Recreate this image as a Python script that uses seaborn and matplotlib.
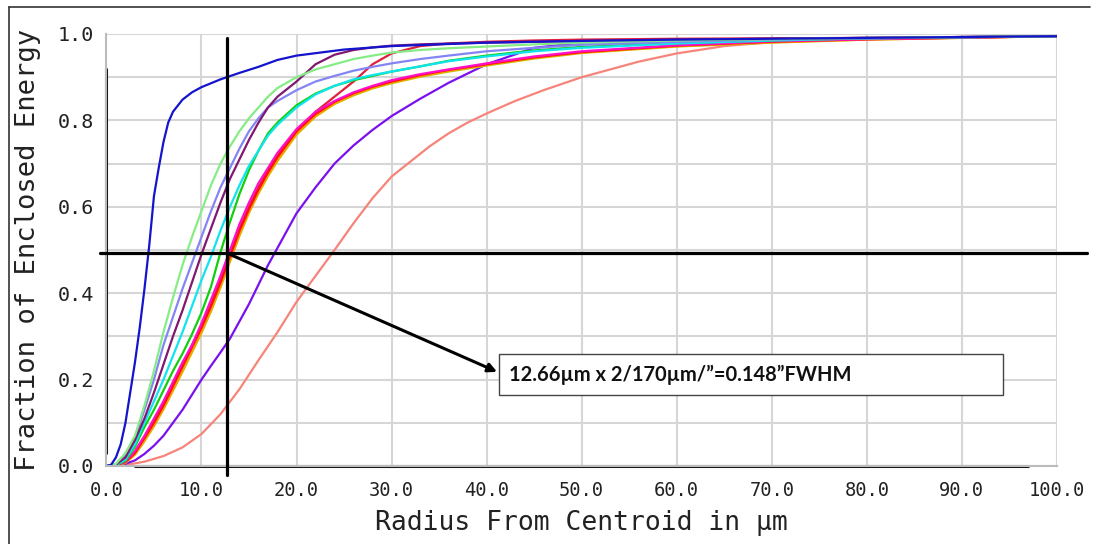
import matplotlib
matplotlib.use("Agg")
from matplotlib import pyplot as plt
from matplotlib.lines import Line2D
from matplotlib.patches import Rectangle
from matplotlib.ticker import MultipleLocator, FormatStrFormatter
import pandas as pd
import seaborn as sns

# radius grid (um) shared by most of the curves
radius = [0, 1, 2, 3, 4, 5, 6, 7, 8, 9, 10, 11, 12, 13, 14, 15, 16, 17, 18,
          20, 22, 24, 26, 28, 30, 33, 36, 40, 45, 50, 60, 70, 80, 100]
# the blue one rises very fast, so it gets a finer grid
blue_radius = [0, 0.5, 1, 1.5, 2, 2.5, 3, 3.5, 4, 4.5, 5, 5.5, 6, 6.5, 7, 8, 9, 10,
               12, 14, 16, 18, 20, 25, 30, 40, 50, 60, 80, 100]
# the salmon one is slow, finer steps further out
salmon_radius = [0, 2, 4, 6, 8, 10, 12, 14, 16, 18, 20, 22, 24, 26, 28, 30, 32, 34, 36, 38,
                 40, 43, 46, 50, 53, 56, 60, 65, 70, 80, 90, 100]

# enclosed energy
blue = [0, 0.003, 0.02, 0.05, 0.1, 0.17, 0.24, 0.32, 0.41, 0.51, 0.625, 0.69, 0.75, 0.795, 0.82, 0.848, 0.865, 0.877,
        0.895, 0.91, 0.924, 0.94, 0.95, 0.964, 0.972, 0.98, 0.984, 0.987, 0.991, 0.995]
lgreen = [0, 0.005, 0.03, 0.07, 0.14, 0.22, 0.31, 0.39, 0.465, 0.53, 0.59, 0.65, 0.7, 0.74, 0.775, 0.805, 0.83, 0.855, 0.875,
          0.9, 0.918, 0.93, 0.942, 0.95, 0.957, 0.963, 0.967, 0.971, 0.976, 0.98, 0.985, 0.988, 0.991, 0.995]
lslate = [0, 0.004, 0.025, 0.065, 0.13, 0.2, 0.28, 0.345, 0.41, 0.47, 0.53, 0.59, 0.645, 0.69, 0.735, 0.775, 0.805, 0.83, 0.845,
          0.87, 0.89, 0.903, 0.915, 0.924, 0.932, 0.942, 0.95, 0.96, 0.968, 0.975, 0.982, 0.987, 0.99, 0.995]
dpurple = [0, 0.003, 0.02, 0.06, 0.11, 0.17, 0.235, 0.3, 0.36, 0.425, 0.49, 0.55, 0.61, 0.665, 0.71, 0.755, 0.795, 0.83, 0.855,
           0.89, 0.93, 0.952, 0.963, 0.969, 0.973, 0.976, 0.978, 0.98, 0.982, 0.984, 0.987, 0.989, 0.991, 0.995]
cyan = [0, 0.002, 0.015, 0.05, 0.1, 0.15, 0.2, 0.255, 0.31, 0.37, 0.43, 0.485, 0.545, 0.6, 0.65, 0.695, 0.73, 0.765, 0.79,
        0.83, 0.86, 0.88, 0.895, 0.905, 0.913, 0.925, 0.937, 0.948, 0.96, 0.968, 0.978, 0.985, 0.99, 0.995]
green = [0, 0.002, 0.012, 0.045, 0.09, 0.13, 0.175, 0.22, 0.26, 0.305, 0.355, 0.415, 0.495, 0.565, 0.63, 0.685, 0.73, 0.77, 0.795,
         0.835, 0.862, 0.88, 0.893, 0.903, 0.913, 0.925, 0.938, 0.95, 0.962, 0.97, 0.979, 0.985, 0.99, 0.995]
magenta = [0, 0.002, 0.01, 0.035, 0.07, 0.11, 0.15, 0.195, 0.24, 0.28, 0.33, 0.385, 0.44, 0.5, 0.56, 0.61, 0.655, 0.69, 0.725,
           0.78, 0.82, 0.845, 0.865, 0.88, 0.893, 0.907, 0.918, 0.932, 0.948, 0.96, 0.974, 0.983, 0.988, 0.995]
red = [0, 0.002, 0.009, 0.03, 0.065, 0.1, 0.14, 0.185, 0.23, 0.275, 0.32, 0.37, 0.425, 0.485, 0.545, 0.595, 0.64, 0.68, 0.715,
       0.775, 0.815, 0.843, 0.863, 0.878, 0.89, 0.905, 0.917, 0.93, 0.946, 0.958, 0.973, 0.982, 0.988, 0.995]
crimson = [0, 0.002, 0.01, 0.032, 0.066, 0.105, 0.145, 0.19, 0.235, 0.28, 0.325, 0.375, 0.43, 0.49, 0.55, 0.6, 0.645, 0.685, 0.72,
           0.775, 0.82, 0.855, 0.89, 0.93, 0.955, 0.972, 0.978, 0.982, 0.985, 0.987, 0.989, 0.99, 0.991, 0.995]
orange = [0, 0.001, 0.008, 0.028, 0.06, 0.095, 0.135, 0.178, 0.223, 0.268, 0.313, 0.363, 0.418, 0.478, 0.538, 0.59, 0.635, 0.675, 0.71,
          0.77, 0.811, 0.84, 0.86, 0.876, 0.888, 0.903, 0.915, 0.929, 0.945, 0.957, 0.972, 0.981, 0.987, 0.995]
yellow = [0, 0.001, 0.007, 0.026, 0.057, 0.092, 0.131, 0.174, 0.218, 0.263, 0.308, 0.358, 0.413, 0.473, 0.533, 0.586, 0.631, 0.671, 0.706,
          0.767, 0.809, 0.838, 0.858, 0.874, 0.886, 0.901, 0.913, 0.927, 0.943, 0.956, 0.971, 0.98, 0.987, 0.995]
violet = [0, 0.001, 0.005, 0.013, 0.028, 0.047, 0.07, 0.1, 0.13, 0.165, 0.2, 0.232, 0.263, 0.295, 0.335, 0.375, 0.42, 0.465, 0.505,
          0.585, 0.645, 0.7, 0.742, 0.778, 0.81, 0.85, 0.887, 0.93, 0.968, 0.98, 0.985, 0.988, 0.991, 0.995]
salmon = [0, 0.002, 0.01, 0.023, 0.043, 0.074, 0.12, 0.178, 0.245, 0.31, 0.38, 0.44, 0.5, 0.562, 0.62, 0.67, 0.705, 0.74, 0.77, 0.795,
          0.816, 0.845, 0.87, 0.9, 0.918, 0.936, 0.955, 0.972, 0.981, 0.989, 0.992, 0.995]

curves = {"salmon": salmon, "violet": violet, "yellow": yellow, "orange": orange,
          "crimson": crimson, "red": red, "magenta": magenta, "green": green,
          "cyan": cyan, "lslate": lslate, "dpurple": dpurple, "lgreen": lgreen, "blue": blue}
colors = {"salmon": "#f7847a", "violet": "#7a10ee", "yellow": "#c9c000", "orange": "#ff9a00",
          "crimson": "#e0203c", "red": "#ff1010", "magenta": "#ff10c8", "green": "#10d010",
          "cyan": "#10e4ee", "lslate": "#8484f4", "dpurple": "#801870", "lgreen": "#86ec86", "blue": "#1414cc"}

fwhm_r = 12.66      # radius at half energy
half_level = 0.493
note = "12.66µm x 2/170µm/\u201d=0.148\u201dFWHM"

#long form table for seaborn
parts = []
for name, vals in curves.items():
    if name == "blue":
        r = blue_radius
    elif name == "salmon":
        r = salmon_radius
    else:
        r = radius
    parts.append(pd.DataFrame({"radius": r, "energy": vals, "curve": name}))
df = pd.concat(parts, ignore_index=True)

sns.set_theme(style="white")
plt.rcParams["font.family"] = ["DejaVu Sans Mono"]

fig = plt.figure(figsize=(10.94, 5.44), dpi=100)
ax = fig.add_axes([0.0973, 0.1434, 0.8688, 0.7941])

sns.lineplot(data=df, x="radius", y="energy", hue="curve", hue_order=list(curves),
             palette=colors, linewidth=1.6, legend=False, ax=ax, sort=False)

ax.set_xlim(0, 100)
ax.set_ylim(0, 1)
ax.xaxis.set_major_locator(MultipleLocator(10))
ax.yaxis.set_major_locator(MultipleLocator(0.2))
ax.yaxis.set_minor_locator(MultipleLocator(0.1))
ax.xaxis.set_major_formatter(FormatStrFormatter("%.1f"))
ax.yaxis.set_major_formatter(FormatStrFormatter("%.1f"))
ax.grid(True, which="both", color="#d6d6d6", linewidth=1.5)
ax.set_axisbelow(True)
ax.tick_params(axis="both", which="both", length=5, width=1, color="#888888", direction="out")
ax.tick_params(axis="y", labelsize=14.5, pad=4, labelcolor="#222222")
ax.tick_params(axis="x", labelsize=13.5, pad=6, labelcolor="#222222")
for s in ["top", "right"]:
    ax.spines[s].set_visible(False)
for s in ["left", "bottom"]:
    ax.spines[s].set_color("#bbbbbb")
    ax.spines[s].set_linewidth(1.5)
# dark part of the axis lines
ax.axhline(0, xmin=0.03, xmax=0.97, color="#111111", lw=2.2, clip_on=False)
ax.axvline(0, ymin=0.03, ymax=0.92, color="#111111", lw=2.2, clip_on=False)

ax.set_xlabel("Radius From Centroid in µm", fontsize=19, labelpad=7, color="#222222")
ax.set_ylabel("Fraction of Enclosed Energy", fontsize=19.5, labelpad=12, color="#222222")

# FWHM cursor lines and note
ax.plot([fwhm_r, fwhm_r], [-0.02, 0.99], color="black", lw=2.3, clip_on=False, zorder=5)
ax.plot([-0.7, 103.2], [half_level, half_level], color="black", lw=2.3, clip_on=False, zorder=5)
ax.annotate("", xy=(41.1, 0.218), xytext=(fwhm_r, half_level),
            arrowprops=dict(arrowstyle="-|>", color="black", lw=2.2, mutation_scale=13, shrinkA=0, shrinkB=0),
            zorder=6)
ax.add_patch(Rectangle((41.3, 0.164), 53.0, 0.095, facecolor="white", edgecolor="#444444", lw=1.0, zorder=6))
ax.text(42.4, 0.211, note, fontsize=14.5, family=["Lato", "DejaVu Sans"], weight="bold",
        ha="left", va="center", color="#111111", zorder=7)

# picture frame
fig.add_artist(Line2D([9 / 1094, 1090 / 1094], [1 - 7 / 544, 1 - 7 / 544], color="#333333", lw=1.2))
fig.add_artist(Line2D([9 / 1094, 9 / 1094], [0, 1 - 7 / 544], color="#333333", lw=1.2))

fig.savefig("out.png", dpi=100)
